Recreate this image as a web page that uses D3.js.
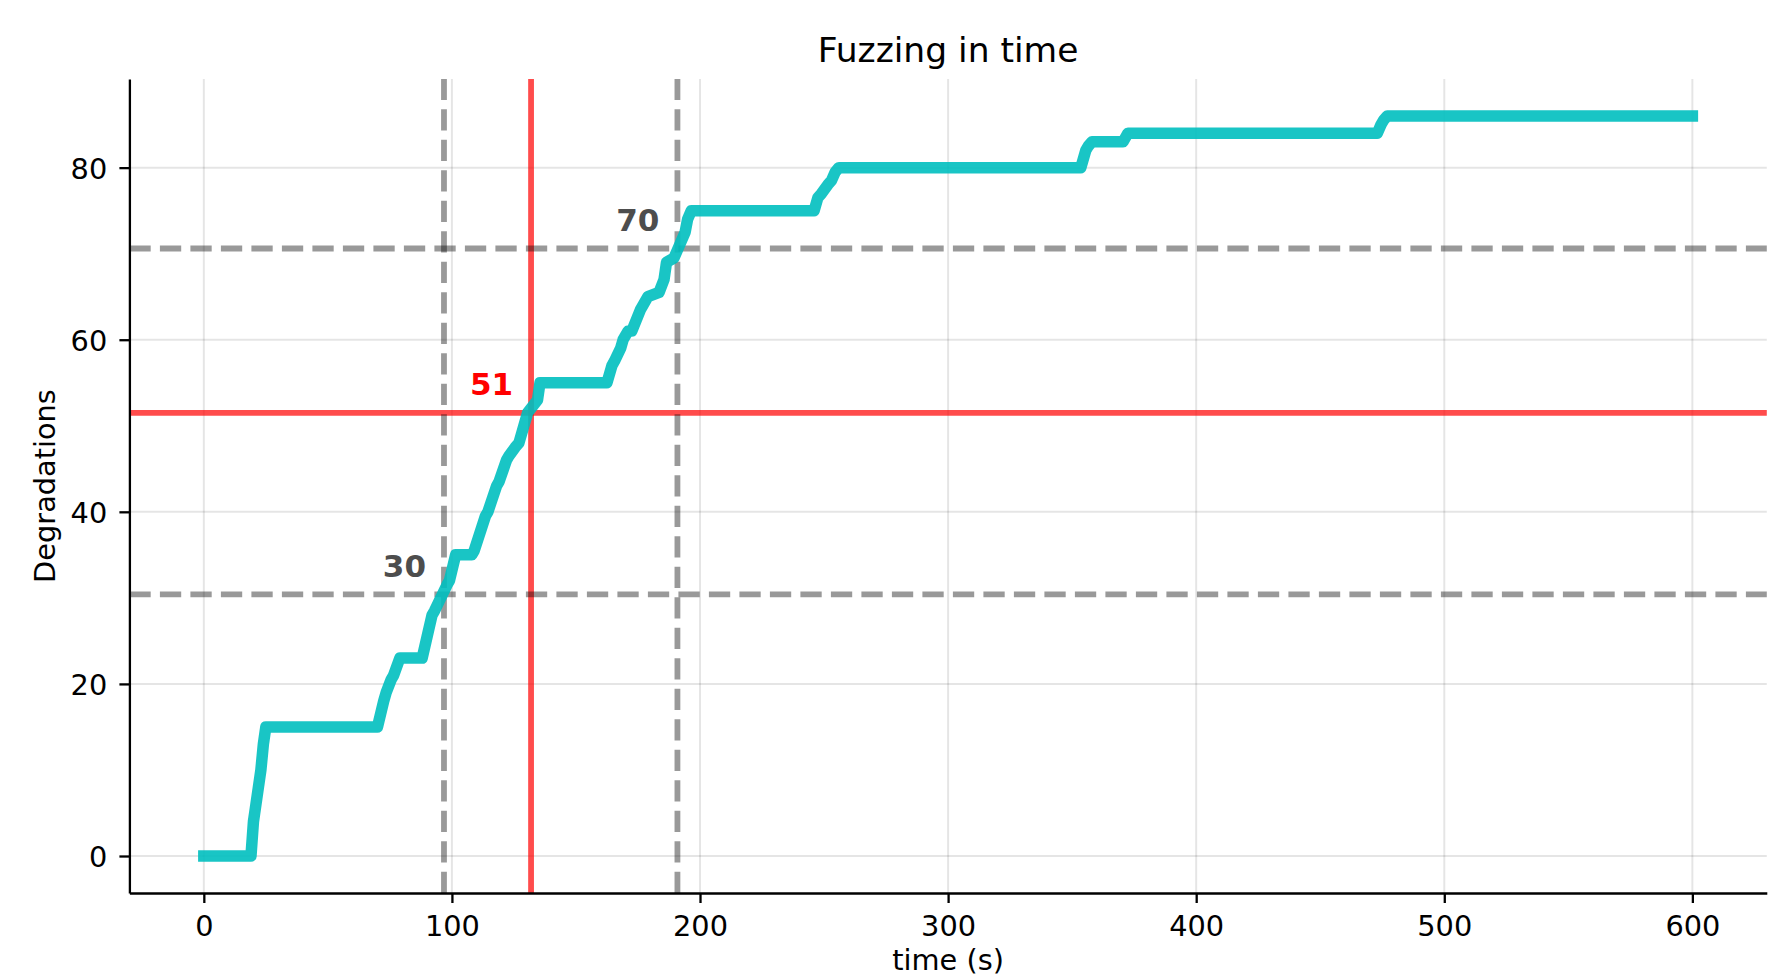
<!DOCTYPE html>
<html>
<head>
<meta charset="utf-8">
<script src="https://cdn.jsdelivr.net/npm/d3@7"></script>
<style>
body { margin: 0; background: #fff; }
text { font-family: "DejaVu Sans", sans-serif; }
</style>
</head>
<body>
<div id="chart"></div>
<script>
const WIDTH = 1785, HEIGHT = 980; // picture size
const LEFT = 129.4, RIGHT = 1766.8, TOP = 79, BOTTOM = 893;

// values
const times = [0, 19, 20, 20.5, 23, 24, 25, 70, 72.5, 73.5, 75.5, 76.5, 79, 88, 92, 93, 98, 99, 101.5, 108,
    109, 113.5, 114.5, 118, 119, 122, 123, 125.5, 127, 130.5, 134.5, 135.5, 162.5, 164.5, 165.5, 168, 169, 171, 172.5,
    176, 179, 183.5, 185.5, 186.5, 189.5, 194, 195, 196.5, 246, 247.5, 249, 251.5, 253, 254.5, 256,
    353.5, 355.5, 356.5, 358, 370.5, 372.5, 473, 474.5, 475.5, 477, 600]
const degradations = [0, 0, 4, 5, 10, 13, 15, 15, 18, 19, 20.5, 21, 23, 23, 28, 28.5, 31.5, 32, 35, 35,
    35.5, 39.5, 40, 43, 43.5, 46, 46.5, 47.5, 48, 51.5, 53, 55, 55, 57, 57.5, 59, 60, 61, 61,
    63.5, 65, 65.5, 67, 69, 69.5, 72.5, 74, 75, 75, 76.5, 77, 78, 78.5, 79.5, 80,
    80, 82, 82.5, 83, 83, 84, 84, 85, 85.5, 86, 86]
const xTicks = [0, 100, 200, 300, 400, 500, 600]
const yTicks = [0, 20, 40, 60, 80]
const markerTimes = [96.8, 131.9, 190.9]
const markerLevels = [30.4, 51.5, 70.6]
const markerLabels = ["30", "51", "70"]
const markerMain = [false, true, false]

const points = times.map((t, i) => { return { t, v: degradations[i] } })
const markers = markerTimes.map((t, i) => {
    return { t, v: markerLevels[i], label: markerLabels[i], main: markerMain[i] }
})

const svg = d3.select("#chart")
    .append("svg")
    .attr("width", WIDTH)
    .attr("height", HEIGHT)

const x = d3.scaleLinear().domain([-30, 630]).range([LEFT, RIGHT])
const y = d3.scaleLinear().domain([-4.3, 90.3]).range([BOTTOM, TOP])

// grid
const grid = svg.append("g").attr("stroke", "#000").attr("stroke-opacity", 0.1).attr("stroke-width", 2)
grid.selectAll("line.gx").data(xTicks).enter().append("line")
    .attr("x1", d => x(d)).attr("x2", d => x(d))
    .attr("y1", TOP).attr("y2", BOTTOM)
grid.selectAll("line.gy").data(yTicks).enter().append("line")
    .attr("x1", LEFT).attr("x2", RIGHT)
    .attr("y1", d => y(d)).attr("y2", d => y(d))

// red lines for the main marker, dashed grey for the others
const mainMarkers = markers.filter(m => m.main)
const otherMarkers = markers.filter(m => !m.main)
const red = svg.append("g").attr("stroke", "red").attr("stroke-opacity", 0.7).attr("stroke-width", 5.8)
red.selectAll("line.h").data(mainMarkers).enter().append("line")
    .attr("x1", LEFT).attr("x2", RIGHT).attr("y1", d => y(d.v)).attr("y2", d => y(d.v))
red.selectAll("line.v").data(mainMarkers).enter().append("line")
    .attr("x1", d => x(d.t)).attr("x2", d => x(d.t)).attr("y1", BOTTOM).attr("y2", TOP)

const dashed = svg.append("g").attr("stroke", "#000").attr("stroke-opacity", 0.4)
    .attr("stroke-width", 5.8).attr("stroke-dasharray", "21.3 9.2")
dashed.selectAll("line.h").data(otherMarkers).enter().append("line")
    .attr("x1", LEFT).attr("x2", RIGHT).attr("y1", d => y(d.v)).attr("y2", d => y(d.v))
dashed.selectAll("line.v").data(otherMarkers).enter().append("line")
    .attr("x1", d => x(d.t)).attr("x2", d => x(d.t)).attr("y1", BOTTOM).attr("y2", TOP)

// the fuzzing curve
const line = d3.line().x(d => x(d.t)).y(d => y(d.v))
svg.append("path")
    .datum(points)
    .attr("d", line)
    .attr("fill", "none")
    .attr("stroke", "#00bfbf")
    .attr("stroke-opacity", 0.9)
    .attr("stroke-width", 11.5)
    .attr("stroke-linejoin", "round")
    .attr("stroke-linecap", "square")

// marker labels
svg.selectAll("text.marker").data(markers).enter().append("text")
    .attr("x", d => x(d.t) - 18)
    .attr("y", d => y(d.v) - 17.5)
    .attr("text-anchor", "end")
    .attr("font-size", 31)
    .attr("font-weight", "bold")
    .attr("fill", d => d.main ? "#ff0000" : "#4d4d4d")
    .text(d => d.label)

// axes
const xAxis = svg.append("g")
    .attr("transform", `translate(0,${BOTTOM})`)
    .call(d3.axisBottom(x).tickValues(xTicks).tickSize(10).tickSizeOuter(0).tickPadding(12.6))
const yAxis = svg.append("g")
    .attr("transform", `translate(${LEFT},0)`)
    .call(d3.axisLeft(y).tickValues(yTicks).tickSize(10).tickSizeOuter(0).tickPadding(12.2))
yAxis.selectAll("text").attr("dy", "0.36em")
svg.selectAll(".domain, .tick line").attr("stroke", "#000").attr("stroke-width", 2.3)
svg.selectAll(".tick text")
    .attr("font-family", "DejaVu Sans")
    .attr("font-size", 28.8)
    .attr("fill", "#000")

// titles
svg.append("text")
    .attr("x", (LEFT + RIGHT) / 2).attr("y", 62)
    .attr("text-anchor", "middle")
    .attr("font-size", 34.5)
    .text("Fuzzing in time")
svg.append("text")
    .attr("x", (LEFT + RIGHT) / 2).attr("y", 970)
    .attr("text-anchor", "middle")
    .attr("font-size", 28.8)
    .text("time (s)")
svg.append("text")
    .attr("transform", `translate(55,${(TOP + BOTTOM) / 2}) rotate(-90)`)
    .attr("text-anchor", "middle")
    .attr("font-size", 28.8)
    .text("Degradations")
</script>
</body>
</html>
